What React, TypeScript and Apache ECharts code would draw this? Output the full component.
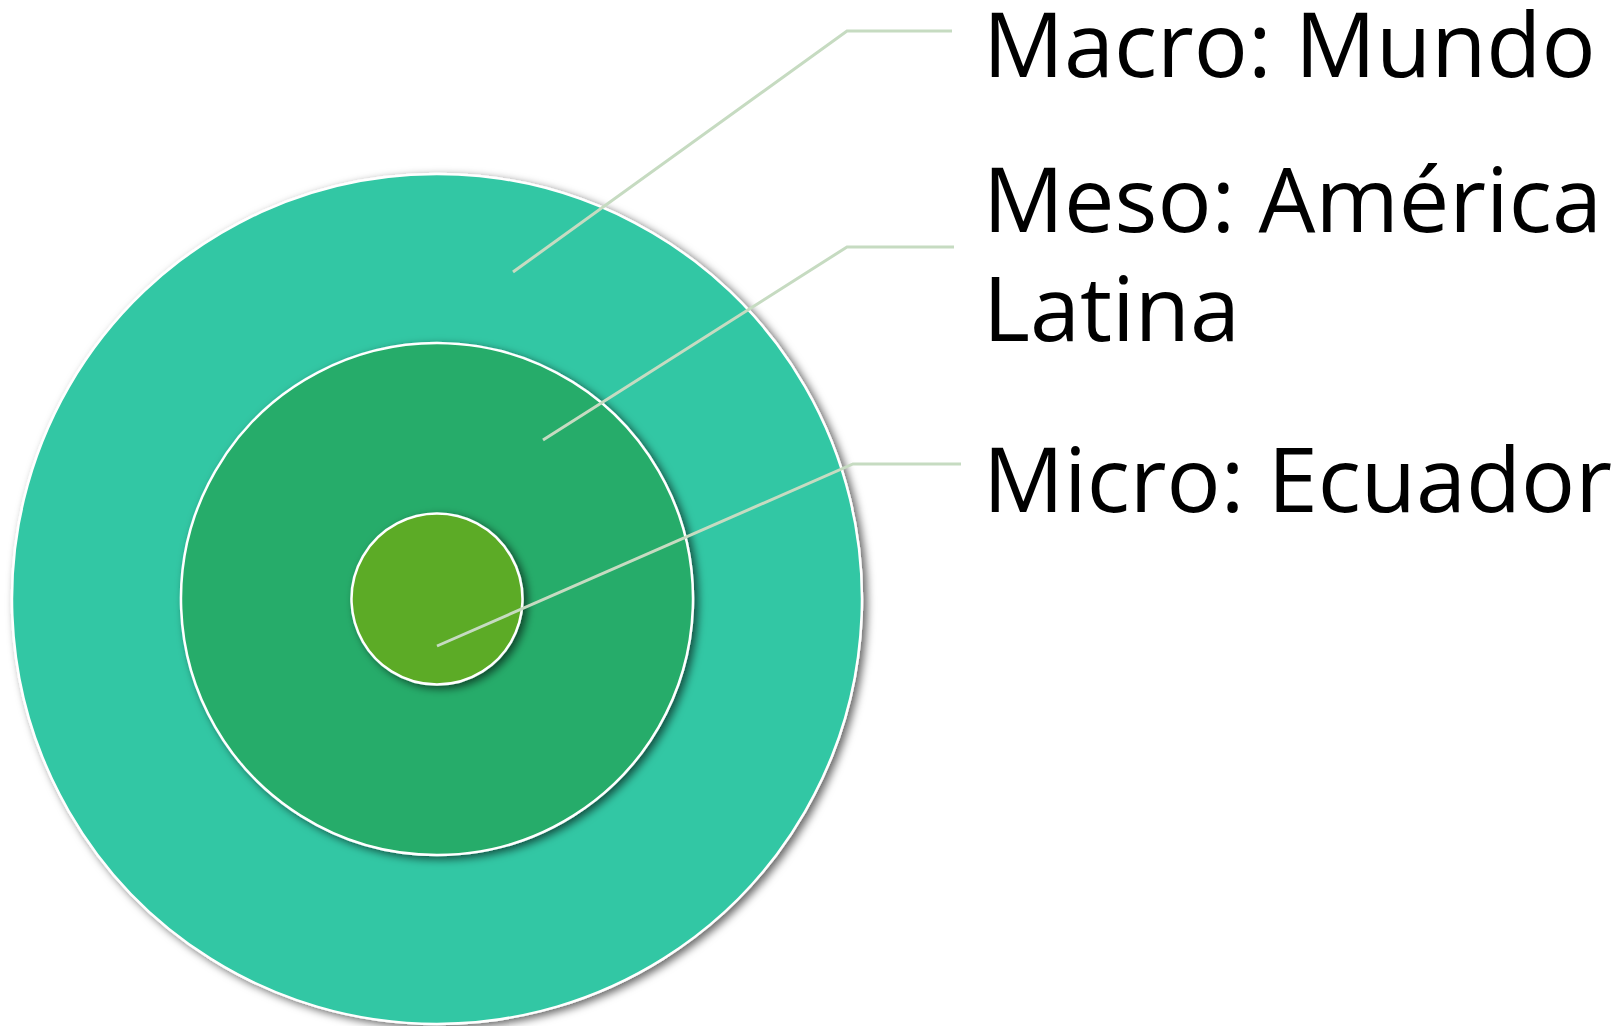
import React, { useEffect, useRef } from "react";
import * as echarts from "echarts";

// Levels, outermost first
const levelNames = ["Macro", "Meso", "Micro"];
const levelLabels = ["Macro: Mundo", "Meso: América\nLatina", "Micro: Ecuador"];
const levelRadii = [425, 256, 85.5];
const levelColors = ["#33c7a4", "#27ac6a", "#5bab27"];
// leader line anchor points inside each ring (px offset from centre)
const anchorDX = [76, 106, 0];
const anchorDY = [-327, -159, 47];
// elbow points and label line ends
const elbowX = [847, 847, 853];
const elbowY = [31, 247, 464];
const lineEndX = [952, 954, 961];
// label top positions
const labelY = [-13, 142, 422];

const CX = 437;
const CY = 599;

export default function App() {
  const ref = useRef<HTMLDivElement>(null);
  useEffect(() => {
    if (!ref.current) return;
    const chart = echarts.init(ref.current, undefined, { renderer: "svg" });
    const series = levelNames.map((name, i) => ({
      type: "pie",
      name,
      z: 2 + i,
      zlevel: 0,
      center: [CX, CY],
      radius: [0, levelRadii[i]],
      silent: true,
      label: { show: false },
      labelLine: { show: false },
      itemStyle: {
        color: levelColors[i],
        borderColor: "#ffffff",
        borderWidth: 2.5,
        shadowColor: "rgba(0,0,0,0.6)",
        shadowBlur: 9,
        shadowOffsetX: 4,
        shadowOffsetY: 3,
      },
      data: [{ name, value: 1 }],
    }));
    const lines = levelNames.map((_, i) => ({
      type: "polyline",
      z: 100,
      silent: true,
      shape: {
        points: [
          [CX + anchorDX[i], CY + anchorDY[i]],
          [elbowX[i], elbowY[i]],
          [lineEndX[i], elbowY[i]],
        ],
      },
      style: { stroke: "#c6dbc1", lineWidth: 3, fill: null },
    }));
    const texts = levelLabels.map((t, i) => ({
      type: "text",
      z: 100,
      x: 983,
      y: labelY[i],
      style: {
        text: t,
        fontFamily: "Open Sans",
        fontSize: 90,
        lineHeight: 109,
        fill: "#000000",
        align: "left",
        verticalAlign: "top",
      },
    }));
    chart.setOption({
      animation: false,
      backgroundColor: "#ffffff",
      series,
      graphic: { elements: [...lines, ...texts] },
    });
    return () => chart.dispose();
  }, []);
  return (
    <div
      ref={ref}
      style={{ position: "fixed", left: 0, top: 0, width: 1624, height: 1026 }}
    />
  );
}
